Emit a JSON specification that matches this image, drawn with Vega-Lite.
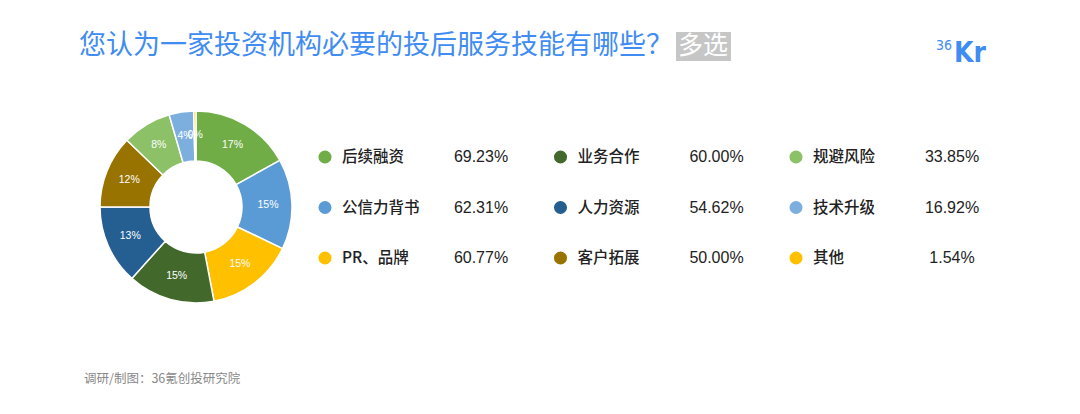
{
  "$schema": "https://vega.github.io/schema/vega-lite/v6.json",
  "width": 1080,
  "height": 414,
  "autosize": {"type": "fit", "contains": "padding"},
  "padding": 0,
  "background": "white",
  "config": {"view": {"stroke": null}},
  "datasets": {
    "skills": [
      {"idx": 1, "name": "后续融资", "pct": 69.23, "pctText": "69.23%", "share": "17%", "col": 0, "row": 0},
      {"idx": 2, "name": "公信力背书", "pct": 62.31, "pctText": "62.31%", "share": "15%", "col": 0, "row": 1},
      {"idx": 3, "name": "PR、品牌", "pct": 60.77, "pctText": "60.77%", "share": "15%", "col": 0, "row": 2},
      {"idx": 4, "name": "业务合作", "pct": 60.00, "pctText": "60.00%", "share": "15%", "col": 1, "row": 0},
      {"idx": 5, "name": "人力资源", "pct": 54.62, "pctText": "54.62%", "share": "13%", "col": 1, "row": 1},
      {"idx": 6, "name": "客户拓展", "pct": 50.00, "pctText": "50.00%", "share": "12%", "col": 1, "row": 2},
      {"idx": 7, "name": "规避风险", "pct": 33.85, "pctText": "33.85%", "share": "8%", "col": 2, "row": 0},
      {"idx": 8, "name": "技术升级", "pct": 16.92, "pctText": "16.92%", "share": "4%", "col": 2, "row": 1},
      {"idx": 9, "name": "其他", "pct": 1.54, "pctText": "1.54%", "share": "0%", "col": 2, "row": 2}
    ],
    "notes": [
      {"text": "您认为一家投资机构必要的投后服务技能有哪些？"}
    ]
  },
  "layer": [
    {
      "data": {"name": "skills"},
      "mark": {"type": "arc", "innerRadius": 46, "outerRadius": 96, "stroke": "white", "strokeWidth": 1.5},
      "encoding": {
        "x": {"value": 196},
        "y": {"value": 207},
        "theta": {"field": "pct", "type": "quantitative", "stack": true},
        "order": {"field": "idx", "type": "quantitative"},
        "color": {
          "field": "name", "type": "nominal", "legend": null,
          "scale": {
            "domain": ["后续融资", "公信力背书", "PR、品牌", "业务合作", "人力资源", "客户拓展", "规避风险", "技术升级", "其他"],
            "range": ["#70AD47", "#5B9BD5", "#FFC000", "#43682B", "#255E91", "#997300", "#8CC168", "#7CAFDD", "#FFC000"]
          }
        }
      }
    },
    {
      "data": {"name": "skills"},
      "mark": {"type": "text", "radius": 72, "fill": "white", "fontSize": 10.5, "font": "Liberation Sans"},
      "encoding": {
        "x": {"value": 196},
        "y": {"value": 207},
        "theta": {"field": "pct", "type": "quantitative", "stack": true},
        "order": {"field": "idx", "type": "quantitative"},
        "text": {"field": "share"}
      }
    },
    {
      "data": {"name": "skills"},
      "mark": {"type": "point", "filled": true, "size": 170, "opacity": 1, "shape": "circle"},
      "encoding": {
        "x": {"field": "col", "type": "quantitative", "axis": null, "scale": {"domain": [0, 2], "range": [325, 796]}},
        "y": {"field": "row", "type": "quantitative", "axis": null, "scale": {"domain": [0, 2], "range": [157, 258]}},
        "color": {"field": "name", "type": "nominal", "legend": null}
      }
    },
    {
      "data": {"name": "skills"},
      "mark": {"type": "text", "align": "left", "baseline": "middle", "dx": 17, "fontSize": 15.5, "fontWeight": 500, "font": "Noto Sans CJK SC", "fill": "#222222"},
      "encoding": {
        "x": {"field": "col", "type": "quantitative"},
        "y": {"field": "row", "type": "quantitative"},
        "text": {"field": "name"}
      }
    },
    {
      "data": {"name": "skills"},
      "mark": {"type": "text", "align": "center", "baseline": "middle", "dx": 156, "fontSize": 16, "font": "Liberation Sans", "fill": "#222222"},
      "encoding": {
        "x": {"field": "col", "type": "quantitative"},
        "y": {"field": "row", "type": "quantitative"},
        "text": {"field": "pctText"}
      }
    },
    {
      "data": {"name": "notes"},
      "mark": {"type": "text", "align": "left", "baseline": "middle", "fontSize": 27, "font": "Noto Sans CJK SC", "fill": "#3F8CF2"},
      "encoding": {"x": {"value": 79}, "y": {"value": 46}, "text": {"field": "text"}}
    },
    {
      "data": {"values": [{"t": "多选"}]},
      "mark": {"type": "rect", "fill": "#C6C6C6"},
      "encoding": {"x": {"value": 676}, "x2": {"value": 731}, "y": {"value": 32}, "y2": {"value": 61}}
    },
    {
      "data": {"values": [{"t": "多选"}]},
      "mark": {"type": "text", "align": "center", "baseline": "middle", "fontSize": 25, "font": "Noto Sans CJK SC", "fill": "white"},
      "encoding": {"x": {"value": 703}, "y": {"value": 46}, "text": {"field": "t"}}
    },
    {
      "data": {"values": [{"t": "36"}]},
      "mark": {"type": "text", "align": "left", "baseline": "alphabetic", "fontSize": 14, "font": "DejaVu Sans Condensed", "fill": "#3F8CF2"},
      "encoding": {"x": {"value": 936}, "y": {"value": 50}, "text": {"field": "t"}}
    },
    {
      "data": {"values": [{"t": "Kr"}]},
      "mark": {"type": "text", "align": "left", "baseline": "alphabetic", "fontSize": 28, "fontWeight": "bold", "font": "DejaVu Sans Condensed", "fill": "#3F8CF2"},
      "encoding": {"x": {"value": 954}, "y": {"value": 62}, "text": {"field": "t"}}
    },
    {
      "data": {"values": [{"t": "调研/制图：36氪创投研究院"}]},
      "mark": {"type": "text", "align": "left", "baseline": "middle", "fontSize": 12.5, "font": "Noto Sans CJK SC", "fill": "#888888"},
      "encoding": {"x": {"value": 84}, "y": {"value": 379}, "text": {"field": "t"}}
    }
  ]
}
